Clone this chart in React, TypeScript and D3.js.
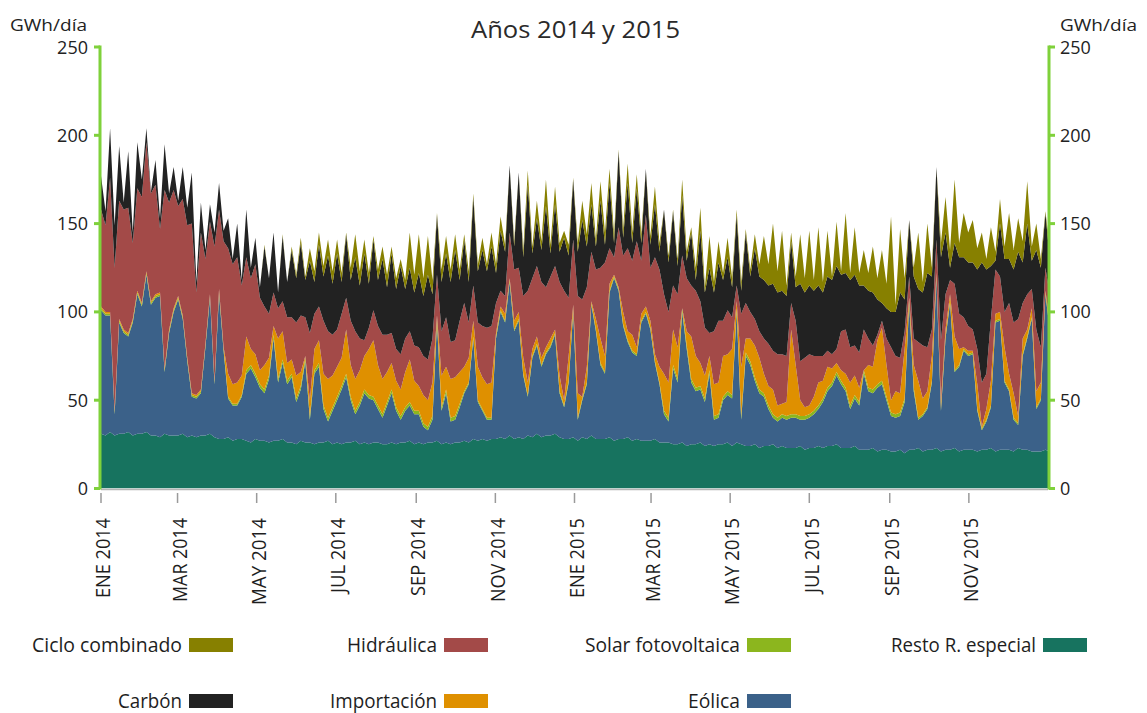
import React from "react";
import * as d3 from "d3";

// ---- Data: two readings per week (mid-week value, weekend value), from 1 Jan 2014 ----
const START = new Date(2014, 0, 1);

const restoRE = [
  31,30, 32,30, 31,31, 32,30, 31,31, 32,30, 30,29, 31,30, 30,30, 31,29, 30,29, 30,30, 31,29, 28,28, 29,27, 28,28, 27,26, 28,27, 27,26, 27,27, 28,26,
  26,25, 27,26, 26,25, 26,26, 27,25, 26,25, 26,26, 27,25, 26,25, 26,26, 25,25, 26,25, 26,26, 27,25, 26,25, 26,26, 27,25, 26,25, 26,26, 27,26, 28,27,
  28,27, 28,28, 29,28, 30,28, 29,28, 30,29, 31,29, 30,30, 31,29, 28,28, 29,27, 29,28, 30,28, 28,28, 29,27, 28,28, 29,27, 28,27, 27,27, 28,26, 26,26,
  25,25, 26,24, 25,25, 26,24, 25,24, 25,25, 26,24, 26,25, 24,24, 25,23, 24,24, 25,23, 24,23, 23,23, 24,22, 23,23, 24,23, 24,24, 25,23, 23,23, 24,22,
  22,22, 23,21, 22,22, 21,21, 22,20, 22,22, 23,21, 22,22, 23,21, 22,22, 23,21, 22,22, 22,21, 22,22, 23,21, 22,22, 22,21, 23,22, 22,21, 21,21, 22,21,
];

const eolica = [
  70,68, 66,12, 63,57, 54,64, 79,72, 89,74, 78,80, 35,58, 70,77, 65,43, 22,22, 24,50, 77,30, 82,50, 22,20, 19,24, 38,42, 35,30, 27,36, 58,33, 43,33,
  37,24, 29,46, 13,40, 43,19, 11,19, 24,31, 37,24, 15,22, 28,26, 24,19, 15,22, 28,19, 13,18, 20,17, 16,10, 7,13, 67,19, 28,13, 13,20, 27,33, 57,22,
  16,12, 11,57, 71,66, 87,61, 66,36, 22,45, 50,40, 46,50, 56,25, 18,32, 71,12, 21,31, 74,61, 42,37, 82,92, 84,64, 54,50, 47,67, 72,63, 43,33, 16,12,
  43,35, 74,55, 35,30, 30,25, 40,15, 15,25, 27,27, 74,14, 51,46, 36,31, 28,21, 15,15, 16,16, 17,17, 15,17, 17,19, 21,26, 31,34, 39,36, 32,22, 27,25,
  43,33, 31,36, 37,28, 20,19, 19,29, 83,33, 16,20, 23,38, 96,23, 63,83, 43,48, 56,53, 54,23, 11,16, 23,73, 73,38, 33,18, 13,53, 63,75, 24,29, 88,68,
];

const solarFV = [
  1,1, 1,1, 1,1, 1,1, 1,1, 1,1, 1,1, 1,1, 1,1, 1,1, 1,1, 1,1, 1,1, 1,1, 1,1, 1,1, 2,2, 2,2, 2,2, 2,2, 2,2,
  2,2, 2,2, 2,2, 2,2, 2,2, 2,2, 2,2, 2,2, 2,2, 2,2, 2,2, 2,2, 2,2, 2,2, 2,2, 2,2, 2,2, 2,2, 2,2, 1,1, 1,1,
  1,1, 1,1, 1,1, 1,1, 1,1, 1,1, 1,1, 1,1, 1,1, 1,1, 1,1, 1,1, 1,1, 1,1, 1,1, 1,1, 1,1, 1,1, 1,1, 1,1, 2,2,
  2,2, 2,2, 2,2, 2,2, 2,2, 2,2, 2,2, 2,2, 2,2, 2,2, 2,2, 2,2, 2,2, 2,2, 2,2, 2,2, 2,2, 2,2, 2,2, 2,2, 2,2,
  2,2, 2,2, 2,2, 2,2, 2,2, 2,2, 1,1, 1,1, 1,1, 1,1, 1,1, 1,1, 1,1, 1,1, 1,1, 1,1, 1,1, 1,1, 1,1, 1,1, 1,1,
];

const importacion = [
  1,1, 1,1, 1,1, 1,1, 1,1, 1,1, 1,1, 1,1, 1,1, 1,1, 1,1, 1,1, 1,1, 2,1, 13,11, 12,11, 19,9, 11,8, 14,10, 5,23, 16,10,
  8,13, 8,1, 9,12, 13,18, 22,18, 17,16, 25,18, 18,18, 19,26, 32,23, 20,17, 15,15, 15,20, 24,17, 14,16, 15,19, 2,18, 13,22, 22,18, 14,14, 9,19,
  18,19, 20,2, 2,4, 1,5, 4,9, 7,4, 4,4, 3,4, 2,9, 3,14, 3,14, 1,9, 1,6, 14,9, 4,1, 1,7, 5,9, 4,4, 3,4, 4,9, 21,20,
  20,18, 0,8, 24,18, 13,13, 8,18, 18,23, 21,26, 4,28, 8,13, 18,18, 11,11, 14,7, 6,8, 48,28, 9,5, 5,8, 13,10, 12,8, 5,6, 8,13, 11,8,
  0,13, 13,25, 30,18, 7,13, 11,28, 1,13, 21,9, 9,14, 2,4, 4,4, 19,9, 1,2, 1,14, 1,6, 14,4, 4,19, 9,14, 4,9, 4,5, 9,9, 1,4,
];

const hidraulica = [
  55,49, 76,81, 67,68, 71,43, 58,60, 73,61, 62,36, 101,72, 67,51, 66,75, 96,58, 89,48, 41,76, 45,60, 71,68, 71,51, 45,40, 51,41, 33,25, 19,17, 17,26,
  24,30, 32,22, 38,20, 19,30, 27,23, 21,25, 18,25, 27,18, 9,12, 17,22, 25,21, 17,18, 20,19, 16,20, 22,22, 23,25, 23,25, 28,21, 21,29, 36,20, 20,25,
  29,32, 32,17, 9,10, 26,29, 25,35, 52,40, 40,43, 34,35, 36,53, 62,33, 37,55, 55,45, 28,28, 40,53, 20,10, 34,32, 47,42, 60,30, 52,30, 55,55, 45,40,
  25,30, 30,30, 29,37, 35,27, 13,30, 35,20, 25,18, 9,30, 20,15, 15,15, 20,24, 22,29, 28,26, 15,25, 22,28, 29,23, 15,14, 9,8, 8,22, 25,20, 17,20,
  23,15, 12,3, 4,15, 30,20, 20,10, 12,15, 22,30, 25,15, 19,35, 20,8, 30,20, 17,14, 12,20, 25,20, 35,25, 20,20, 40,40, 55,20, 20,11, 35,20, 13,15,
];

const carbon = [
  19,8, 28,24, 31,4, 32,6, 26,10, 8,1, 14,6, 26,5, 13,3, 18,10, 29,6, 17,5, 10,8, 15,6, 17,3, 19,3, 27,6, 15,6, 34,20, 34,9, 37,20,
  38,25, 41,21, 41,18, 35,25, 43,29, 43,18, 36,23, 42,30, 49,25, 40,26, 43,27, 45,34, 50,28, 36,30, 42,34, 48,25, 34,28, 36,34, 51,23, 36,23, 50,29,
  43,32, 45,17, 34,25, 38,13, 54,22, 60,14, 27,18, 46,13, 35,17, 30,24, 34,25, 45,23, 27,13, 38,10, 37,8, 43,10, 37,10, 30,10, 26,13, 30,10, 48,28,
  42,16, 34,10, 30,6, 40,20, 37,22, 33,23, 30,17, 40,13, 40,20, 40,31, 33,33, 38,35, 36,34, 35,19, 44,37, 39,37, 40,36, 42,42, 47,32, 32,38, 40,38,
  25,27, 30,20, 10,17, 20,25, 37,18, 32,35, 30,30, 42,30, 41,47, 35,7, 23,32, 34,36, 38,45, 68,59, 30,5, 30,30, 25,30, 38,23, 40,16, 45,45, 31,20,
];

const cicloCombinado = [
  0,0, 0,0, 0,0, 0,0, 0,0, 0,0, 0,0, 0,0, 0,0, 0,0, 0,0, 0,0, 0,0, 0,0, 0,0, 0,0, 0,0, 0,0, 1,0, 0,0, 1,0,
  2,2, 3,2, 7,6, 7,6, 9,7, 8,5, 1,7, 13,8, 8,6, 2,6, 7,7, 4,6, 4,5, 20,10, 22,10, 22,8, 1,7, 10,7, 9,6, 3,6, 2,4,
  7,4, 8,5, 8,4, 0,3, 0,4, 8,4, 10,5, 15,5, 10,5, 4,6, 1,5, 11,7, 12,4, 11,7, 8,5, 1,5, 11,6, 8,5, 0,5, 10,5, 0,4,
  1,4, 9,5, 3,7, 13,3, 18,6, 12,4, 11,5, 3,5, 2,4, 8,7, 25,12, 34,12, 34,6, 5,6, 28,8, 31,6, 33,6, 26,2, 25,2, 34,4, 27,7,
  20,10, 26,12, 30,14, 54,4, 36,12, 0,5, 32,6, 28,5, 0,8, 20,10, 36,8, 25,17, 24,12, 17,6, 22,5, 14,7, 26,11, 19,12, 24,8, 15,5, 1,7,
];

const yTicks = [0, 50, 100, 150, 200, 250];
const monthNames = ["ENE", "FEB", "MAR", "ABR", "MAY", "JUN", "JUL", "AGO", "SEP", "OCT", "NOV", "DIC"];

const seriesKeys = ["resto", "eolica", "solar", "importacion", "hidraulica", "carbon", "ciclo"];
const seriesColors: Record<string, string> = {
  ciclo: "#878000",
  carbon: "#222222",
  hidraulica: "#a34a48",
  importacion: "#df9000",
  solar: "#8cb61e",
  eolica: "#3b6189",
  resto: "#17735f",
};

const legendItems = [
  { key: "ciclo", label: "Ciclo combinado", x: 182, row: 0, w: 150 },
  { key: "hidraulica", label: "Hidráulica", x: 437, row: 0, w: 90 },
  { key: "solar", label: "Solar fotovoltaica", x: 740, row: 0, w: 155 },
  { key: "resto", label: "Resto R. especial", x: 1036, row: 0, w: 145 },
  { key: "carbon", label: "Carbón", x: 182, row: 1, w: 64 },
  { key: "importacion", label: "Importación", x: 437, row: 1, w: 107 },
  { key: "eolica", label: "Eólica", x: 740, row: 1, w: 52 },
];

const labelLen: Record<string, number> = { ENE: 80, MAR: 84, MAY: 87, JUL: 75, SEP: 78, NOV: 84 };

const FONT = "'Open Sans', 'Noto Sans', 'DejaVu Sans', sans-serif";
const GREEN = "#7fd13b";

export default function App() {
  const W = 1147;
  const H = 713;
  const left = 101;
  const right = 1048;
  const bottom = 488.5;
  const top = 47;

  const x = d3.scaleTime().domain([new Date(2014, 0, 1), new Date(2016, 0, 1)]).range([left, right]);
  const y = d3.scaleLinear().domain([0, 250]).range([bottom, top]);

  const table = restoRE.map((_, i) => ({
    date: d3.timeHour.offset(START, Math.floor(i / 2) * 168 + (i % 2) * 84),
    resto: restoRE[i],
    eolica: eolica[i],
    solar: solarFV[i],
    importacion: importacion[i],
    hidraulica: hidraulica[i],
    carbon: carbon[i],
    ciclo: cicloCombinado[i],
  }));

  const stacked = d3.stack<any>().keys(seriesKeys)(table);
  const area = d3
    .area<any>()
    .x((d) => x(d.data.date))
    .y0((d) => y(d[0]))
    .y1((d) => y(d[1]))
    .curve(d3.curveLinear);

  const xTicks = d3.timeMonth.every(2)!.range(new Date(2014, 0, 1), new Date(2016, 0, 1));

  return (
    <svg
      width={W}
      height={H}
      style={{ position: "absolute", left: 0, top: 0, background: "#fff" }}
      fontFamily={FONT}
    >
      <defs>
        <clipPath id="plotClip">
          <rect x={left} y={0} width={right - left} height={bottom} />
        </clipPath>
      </defs>

      <text x={575.5} y={38} textAnchor="middle" fontSize={23} fill="#2a2a2a" textLength={209} lengthAdjust="spacingAndGlyphs">
        Años 2014 y 2015
      </text>
      <text x={10} y={31} fontSize={17} fill="#222" textLength={77} lengthAdjust="spacingAndGlyphs">
        GWh/día
      </text>
      <text x={1060} y={31} fontSize={17} fill="#222" textLength={77} lengthAdjust="spacingAndGlyphs">
        GWh/día
      </text>

      <g clipPath="url(#plotClip)">
        {stacked.map((s) => (
          <path key={s.key} d={area(s as any) || ""} fill={seriesColors[s.key]} />
        ))}
      </g>

      {/* x axis */}
      <line x1={left} x2={right} y1={489.5} y2={489.5} stroke="#b5b5b5" strokeWidth={1.5} />
      {xTicks.map((t) => {
        const tx = x(t);
        const name = monthNames[t.getMonth()];
        return (
          <g key={t.toISOString()}>
            <line x1={tx} x2={tx} y1={493} y2={503} stroke="#9a9a9a" strokeWidth={1.5} />
            <text
              transform={`translate(${tx + 2},518) rotate(-90)`}
              textAnchor="end"
              dy="0.36em"
              fontSize={20}
              fill="#1e1e1e"
              textLength={labelLen[name]}
              lengthAdjust="spacingAndGlyphs"
            >
              {`${name} ${t.getFullYear()}`}
            </text>
          </g>
        );
      })}

      {/* y axes */}
      <line x1={100} x2={100} y1={top - 1.5} y2={bottom + 1} stroke={GREEN} strokeWidth={3} />
      <line x1={1049} x2={1049} y1={top - 1.5} y2={bottom + 1} stroke={GREEN} strokeWidth={3} />
      {yTicks.map((v) => (
        <g key={v}>
          <line x1={94} x2={100} y1={y(v)} y2={y(v)} stroke={GREEN} strokeWidth={3} />
          <line x1={1049} x2={1055} y1={y(v)} y2={y(v)} stroke={GREEN} strokeWidth={3} />
          <text x={88} y={y(v) + 6.5} textAnchor="end" fontSize={18} fill="#222">
            {v}
          </text>
          <text x={1060} y={y(v) + 6.5} textAnchor="start" fontSize={18} fill="#222">
            {v}
          </text>
        </g>
      ))}

      {/* legend */}
      {legendItems.map((it) => {
        const yy = it.row === 0 ? 652 : 708;
        return (
          <g key={it.key}>
            <text x={it.x} y={yy} textAnchor="end" fontSize={20} fill="#1e1e1e" textLength={it.w} lengthAdjust="spacingAndGlyphs">
              {it.label}
            </text>
            <rect x={it.x + 7} y={yy - 14} width={44} height={14} fill={seriesColors[it.key]} />
          </g>
        );
      })}
    </svg>
  );
}
